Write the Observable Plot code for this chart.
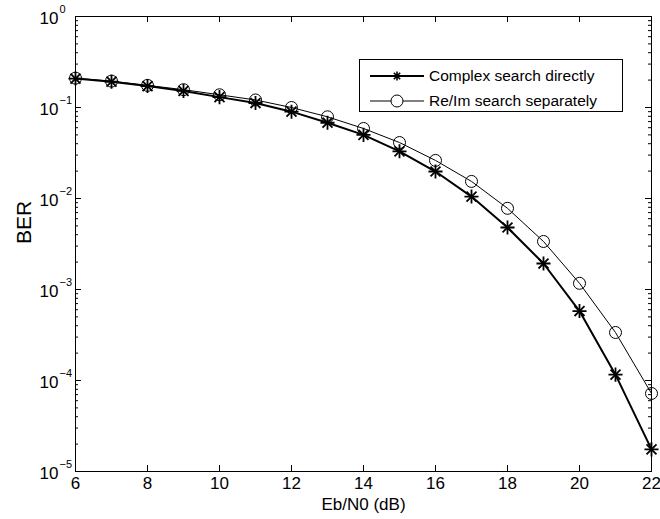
<!DOCTYPE html>
<html>
<head>
<meta charset="utf-8">
<script src="https://cdn.jsdelivr.net/npm/d3@7"></script>
<script src="https://cdn.jsdelivr.net/npm/@observablehq/plot@0.6"></script>
<style>
  html, body { margin: 0; padding: 0; background: #fff; }
  #wrap { position: relative; width: 660px; height: 519px; font-family: "Liberation Sans", Arial, Helvetica, sans-serif; }
  #legend { position: absolute; left: 359px; top: 59px; width: 262px; height: 51px; border: 1px solid #000; background: #fff; }
  .row { position: absolute; left: 0; height: 20px; display: flex; align-items: center; font-size: 15.5px; color: #000; }
  .row svg { margin-left: 10px; margin-right: 5px; }
</style>
</head>
<body>
<div id="wrap"></div>
<script>
// ---- data ----
const ebn0 = [6, 7, 8, 9, 10, 11, 12, 13, 14, 15, 16, 17, 18, 19, 20, 21, 22];
const berComplex = [0.208, 0.192, 0.172, 0.152, 0.130, 0.112, 0.090, 0.068, 0.050, 0.033, 0.0198, 0.0105, 0.0048, 0.00193, 0.00058, 0.000116, 0.0000175];
const berReIm = [0.210, 0.195, 0.175, 0.157, 0.138, 0.121, 0.100, 0.079, 0.0588, 0.0412, 0.0262, 0.0154, 0.0078, 0.00337, 0.00117, 0.000337, 0.000072];
const seriesNames = ["Complex search directly", "Re/Im search separately"];
const xTicks = [6, 8, 10, 12, 14, 16, 18, 20, 22];
const yMajor = [1e-5, 1e-4, 1e-3, 1e-2, 1e-1, 1];
const yExponents = ["\u22125", "\u22124", "\u22123", "\u22122", "\u22121", "0"];
const xLabel = "Eb/N0 (dB)";
const yLabel = "BER";

const complexData = ebn0.map((x, i) => ({x, y: berComplex[i]}));
const reimData = ebn0.map((x, i) => ({x, y: berReIm[i]}));
const yMinor = [];
for (let e = -5; e < 0; e++) for (let m = 2; m <= 9; m++) yMinor.push(m * Math.pow(10, e));
const yLab = yMajor.map((v, i) => ({v, e: yExponents[i]}));

const W = 660, H = 519, mL = 75, mR = 9, mT = 16, mB = 48;
const innerW = W - mL - mR, innerH = H - mT - mB;
const xDom = [6, 22], yDom = [1e-5, 1];
const font = "Liberation Sans, Arial, Helvetica, sans-serif";

// tick helpers (inward ticks via rules with insets)
const ticksY = (vals, len, side) => Plot.ruleY(vals, {
  y: d => d, x1: xDom[0], x2: xDom[1], stroke: "#000", strokeWidth: 1,
  insetRight: side === "left" ? innerW - len : 0,
  insetLeft: side === "right" ? innerW - len : 0
});
const ticksX = (vals, len, side) => Plot.ruleX(vals, {
  x: d => d, y1: yDom[1], y2: yDom[0], stroke: "#000", strokeWidth: 1,
  insetTop: side === "bottom" ? innerH - len : 0,
  insetBottom: side === "top" ? innerH - len : 0
});

const chart = Plot.plot({
  width: W,
  height: H,
  marginLeft: mL,
  marginRight: mR,
  marginTop: mT,
  marginBottom: mB,
  style: {fontFamily: font, background: "#fff", color: "#000"},
  x: {domain: xDom, axis: null},
  y: {type: "log", domain: yDom, axis: null},
  marks: [
    // inward ticks
    ticksY(yMajor, 6, "left"), ticksY(yMajor, 6, "right"),
    ticksY(yMinor, 3, "left"), ticksY(yMinor, 3, "right"),
    ticksX(xTicks, 6, "bottom"), ticksX(xTicks, 6, "top"),
    // lines
    Plot.line(reimData, {x: "x", y: "y", stroke: "#000", strokeWidth: 1}),
    Plot.line(complexData, {x: "x", y: "y", stroke: "#000", strokeWidth: 2}),
    // markers
    Plot.dot(reimData, {x: "x", y: "y", r: 6, stroke: "#000", fill: "none", strokeWidth: 1}),
    Plot.dot(complexData, {x: "x", y: "y", symbol: "plus", r: 4.6, stroke: "#000", strokeWidth: 1.8}),
    Plot.dot(complexData, {x: "x", y: "y", symbol: "times", r: 4.6, stroke: "#000", strokeWidth: 1.8}),
    // x tick labels
    Plot.text(xTicks, {x: d => d, frameAnchor: "bottom", dy: 17, text: d => String(d), fontSize: 17, fill: "#000"}),
    // y tick labels 10^e
    Plot.text(yLab, {y: "v", frameAnchor: "left", dx: -17, dy: 2, text: () => "10", textAnchor: "end", fontSize: 17, fill: "#000"}),
    Plot.text(yLab, {y: "v", frameAnchor: "left", dx: -16, dy: -7, text: "e", textAnchor: "start", fontSize: 11, fill: "#000"}),
    // axis titles
    Plot.text([xLabel], {frameAnchor: "bottom", dy: 38, text: d => d, fontSize: 17, fill: "#000"}),
    Plot.text([yLabel], {frameAnchor: "left", dx: -51, rotate: -90, text: d => d, fontSize: 21, fill: "#000"}),
    Plot.frame({stroke: "#000", strokeWidth: 1})
  ]
});

const wrap = document.getElementById("wrap");
wrap.appendChild(chart);

// legend
const legend = document.createElement("div");
legend.id = "legend";
const sampleStar = `<svg width="54" height="14"><line x1="0" y1="7" x2="54" y2="7" stroke="#000" stroke-width="2"/>
  <path d="M27,2.5V11.5M22.5,7H31.5M23.8,3.8L30.2,10.2M23.8,10.2L30.2,3.8" stroke="#000" stroke-width="1.6"/></svg>`;
const sampleCircle = `<svg width="54" height="14"><line x1="0" y1="7" x2="21" y2="7" stroke="#000" stroke-width="1"/>
  <line x1="33" y1="7" x2="54" y2="7" stroke="#000" stroke-width="1"/>
  <circle cx="27" cy="7" r="6" fill="none" stroke="#000" stroke-width="1"/></svg>`;
legend.innerHTML = `<div class="row" style="top:6px">${sampleStar}<span>${seriesNames[0]}</span></div>
<div class="row" style="top:31px">${sampleCircle}<span>${seriesNames[1]}</span></div>`;
wrap.appendChild(legend);
</script>
</body>
</html>
